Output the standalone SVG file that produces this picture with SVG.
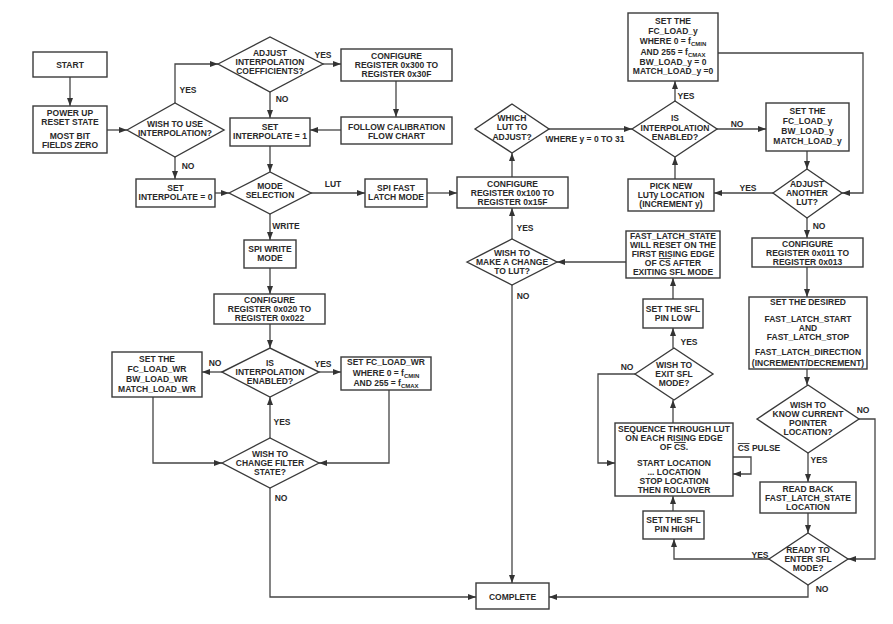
<svg xmlns="http://www.w3.org/2000/svg" width="893" height="624" viewBox="0 0 893 624">
<style>
.n rect,.n polygon{fill:#fff;stroke:#3a3a3a;stroke-width:1.4}
text{font-family:"Liberation Sans",Arial,sans-serif;font-weight:bold;font-size:8.5px;fill:#2a2a2a;text-anchor:middle}
.c path{fill:none;stroke:#444;stroke-width:1.3}
.l text{font-size:8.5px}
.sub{font-size:6px}
.ov{text-decoration:overline}
</style>
<defs>
<marker id="a" viewBox="0 0 8 6" refX="8" refY="3" markerWidth="8" markerHeight="6" markerUnits="userSpaceOnUse" orient="auto">
<path d="M0,0 L8,3 L0,6 z" fill="#333"/>
</marker>
</defs>
<rect width="893" height="624" fill="#fff"/>

<g class="c">
<path d="M70,77 V106" marker-end="url(#a)"/>
<path d="M107,130 H127" marker-end="url(#a)"/>
<path d="M175,103 V64 H218" marker-end="url(#a)"/>
<path d="M175,157 V179" marker-end="url(#a)"/>
<path d="M215,193 H229" marker-end="url(#a)"/>
<path d="M323,64 H341" marker-end="url(#a)"/>
<path d="M396,81 V117" marker-end="url(#a)"/>
<path d="M341,130 H310" marker-end="url(#a)"/>
<path d="M270,92 V118" marker-end="url(#a)"/>
<path d="M270,146 V172" marker-end="url(#a)"/>
<path d="M311,193 H365" marker-end="url(#a)"/>
<path d="M427,193 H457" marker-end="url(#a)"/>
<path d="M270,214 V240" marker-end="url(#a)"/>
<path d="M270,268 V294" marker-end="url(#a)"/>
<path d="M270,324 V348" marker-end="url(#a)"/>
<path d="M222,372 H202" marker-end="url(#a)"/>
<path d="M319,372 H341" marker-end="url(#a)"/>
<path d="M153,397 V463 H222" marker-end="url(#a)"/>
<path d="M389,390 V463 H319" marker-end="url(#a)"/>
<path d="M270,438 V397" marker-end="url(#a)"/>
<path d="M270,488 V597 H476" marker-end="url(#a)"/>
<path d="M512,177 V153" marker-end="url(#a)"/>
<path d="M549,129 H632" marker-end="url(#a)"/>
<path d="M675,101 V81" marker-end="url(#a)"/>
<path d="M717,129 H766" marker-end="url(#a)"/>
<path d="M718,53 H863 V193 H842" marker-end="url(#a)"/>
<path d="M807,151 V169" marker-end="url(#a)"/>
<path d="M773,193 H714" marker-end="url(#a)"/>
<path d="M675,179 V157" marker-end="url(#a)"/>
<path d="M807,218 V238" marker-end="url(#a)"/>
<path d="M807,267 V297" marker-end="url(#a)"/>
<path d="M807,369 V385" marker-end="url(#a)"/>
<path d="M808,453 V482" marker-end="url(#a)"/>
<path d="M808,513 V533" marker-end="url(#a)"/>
<path d="M859,419 H875 V559 H848" marker-end="url(#a)"/>
<path d="M769,559 H674 V539" marker-end="url(#a)"/>
<path d="M808,585 V597 H549" marker-end="url(#a)"/>
<path d="M673,511 V496" marker-end="url(#a)"/>
<path d="M673,423 V400" marker-end="url(#a)"/>
<path d="M635,374 H598 V463 H615" marker-end="url(#a)"/>
<path d="M733,457 H751 V474 H733" marker-end="url(#a)"/>
<path d="M673,348 V328" marker-end="url(#a)"/>
<path d="M673,299 V278" marker-end="url(#a)"/>
<path d="M626,262 H557" marker-end="url(#a)"/>
<path d="M512,239 V208" marker-end="url(#a)"/>
<path d="M512,285 V583" marker-end="url(#a)"/>
</g>

<g class="l">
<text x="188" y="93">YES</text>
<text x="188" y="169">NO</text>
<text x="323" y="58">YES</text>
<text x="282" y="102">NO</text>
<text x="333" y="187">LUT</text>
<text x="286" y="229">WRITE</text>
<text x="215" y="366">NO</text>
<text x="323" y="367">YES</text>
<text x="282" y="425">YES</text>
<text x="281" y="501">NO</text>
<text x="585" y="142">WHERE y = 0 TO 31</text>
<text x="686" y="99">YES</text>
<text x="737" y="127">NO</text>
<text x="748" y="191">YES</text>
<text x="819" y="229">NO</text>
<text x="525" y="231">YES</text>
<text x="523" y="299">NO</text>
<text x="689" y="345">YES</text>
<text x="627" y="370">NO</text>
<text x="759" y="451"><tspan class="ov">CS</tspan> PULSE</text>
<text x="863" y="413">NO</text>
<text x="819" y="463">YES</text>
<text x="760" y="558">YES</text>
<text x="822" y="592">NO</text>
</g>

<g id="start" class="n"><rect x="33" y="52" width="74" height="25"/><text x="70" y="68">START</text></g>
<g id="powerup" class="n"><rect x="33" y="106" width="74" height="47"/><text x="70" y="116">POWER UP</text><text x="70" y="125">RESET STATE</text><text x="70" y="139">MOST BIT</text><text x="70" y="148">FIELDS ZERO</text></g>
<g id="wishuse" class="n"><polygon points="127,130 175,103 224,130 175,157"/><text x="175" y="127">WISH TO USE</text><text x="175" y="136">INTERPOLATION?</text></g>
<g id="setint0" class="n"><rect x="136" y="179" width="79" height="28"/><text x="175.5" y="191">SET</text><text x="175.5" y="200">INTERPOLATE = 0</text></g>
<g id="adjust" class="n"><polygon points="218,64 270,37 323,64 270,92"/><text x="270" y="56">ADJUST</text><text x="270" y="65">INTERPOLATION</text><text x="270" y="74">COEFFICIENTS?</text></g>
<g id="cfg300" class="n"><rect x="341" y="49" width="111" height="32"/><text x="396.5" y="59">CONFIGURE</text><text x="396.5" y="68">REGISTER 0x300 TO</text><text x="396.5" y="77">REGISTER 0x30F</text></g>
<g id="follow" class="n"><rect x="341" y="117" width="111" height="27"/><text x="396.5" y="130">FOLLOW CALIBRATION</text><text x="396.5" y="139">FLOW CHART</text></g>
<g id="setint1" class="n"><rect x="230" y="118" width="80" height="28"/><text x="270" y="130">SET</text><text x="270" y="139">INTERPOLATE = 1</text></g>
<g id="mode" class="n"><polygon points="229,193 270,172 311,193 270,214"/><text x="270" y="189">MODE</text><text x="270" y="198">SELECTION</text></g>
<g id="spifast" class="n"><rect x="365" y="179" width="62" height="28"/><text x="396" y="191">SPI FAST</text><text x="396" y="200">LATCH MODE</text></g>
<g id="spiwrite" class="n"><rect x="244" y="240" width="52" height="28"/><text x="270" y="252">SPI WRITE</text><text x="270" y="261">MODE</text></g>
<g id="cfg020" class="n"><rect x="214" y="294" width="111" height="30"/><text x="269.5" y="303">CONFIGURE</text><text x="269.5" y="312">REGISTER 0x020 TO</text><text x="269.5" y="321">REGISTER 0x022</text></g>
<g id="isinterp1" class="n"><polygon points="222,372 270,348 319,372 270,397"/><text x="270" y="366">IS</text><text x="270" y="375">INTERPOLATION</text><text x="270" y="384">ENABLED?</text></g>
<g id="setwr" class="n"><rect x="112" y="352" width="90" height="45"/><text x="157" y="362">SET THE</text><text x="157" y="372">FC_LOAD_WR</text><text x="157" y="382">BW_LOAD_WR</text><text x="157" y="392">MATCH_LOAD_WR</text></g>
<g id="setfcwr" class="n"><rect x="341" y="357" width="90" height="33"/><text x="386" y="365">SET FC_LOAD_WR</text><text x="386" y="376">WHERE 0 = f<tspan class="sub" dy="2">CMIN</tspan></text><text x="386" y="386">AND 255 = f<tspan class="sub" dy="2">CMAX</tspan></text></g>
<g id="wishchange" class="n"><polygon points="222,463 270,438 319,463 270,488"/><text x="270" y="457">WISH TO</text><text x="270" y="466">CHANGE FILTER</text><text x="270" y="475">STATE?</text></g>
<g id="complete" class="n"><rect x="476" y="583" width="73" height="26"/><text x="512.5" y="600">COMPLETE</text></g>
<g id="cfg100" class="n"><rect x="457" y="177" width="111" height="31"/><text x="512.5" y="186.5">CONFIGURE</text><text x="512.5" y="195.5">REGISTER 0x100 TO</text><text x="512.5" y="204.5">REGISTER 0x15F</text></g>
<g id="which" class="n"><polygon points="475,129 512,104 549,129 512,153"/><text x="512" y="121">WHICH</text><text x="512" y="130">LUT TO</text><text x="512" y="140">ADJUST?</text></g>
<g id="isinterp2" class="n"><polygon points="632,129 675,101 717,129 675,157"/><text x="675" y="121">IS</text><text x="675" y="131">INTERPOLATION</text><text x="675" y="140">ENABLED?</text></g>
<g id="setfcy" class="n"><rect x="628" y="13" width="90" height="68"/><text x="673" y="24">SET THE</text><text x="673" y="34">FC_LOAD_y</text><text x="673" y="44">WHERE 0 = f<tspan class="sub" dy="2">CMIN</tspan></text><text x="673" y="55">AND 255 = f<tspan class="sub" dy="2">CMAX</tspan></text><text x="673" y="65">BW_LOAD_y = 0</text><text x="673" y="74">MATCH_LOAD_y =0</text></g>
<g id="setfcyall" class="n"><rect x="766" y="103" width="83" height="48"/><text x="807.5" y="114">SET THE</text><text x="807.5" y="124">FC_LOAD_y</text><text x="807.5" y="134">BW_LOAD_y</text><text x="807.5" y="144">MATCH_LOAD_y</text></g>
<g id="another" class="n"><polygon points="773,193 807,169 842,193 807,218"/><text x="807" y="187">ADJUST</text><text x="807" y="196">ANOTHER</text><text x="807" y="205">LUT?</text></g>
<g id="picknew" class="n"><rect x="628" y="179" width="86" height="32"/><text x="671" y="189">PICK NEW</text><text x="671" y="198">LUTy LOCATION</text><text x="671" y="207">(INCREMENT y)</text></g>
<g id="cfg011" class="n"><rect x="752" y="238" width="111" height="29"/><text x="807.5" y="246.5">CONFIGURE</text><text x="807.5" y="255.5">REGISTER 0x011 TO</text><text x="807.5" y="264.5">REGISTER 0x013</text></g>
<g id="desired" class="n"><rect x="749" y="297" width="118" height="72"/><text x="808" y="305">SET THE DESIRED</text><text x="808" y="322">FAST_LATCH_START</text><text x="808" y="331">AND</text><text x="808" y="340">FAST_LATCH_STOP</text><text x="808" y="355">FAST_LATCH_DIRECTION</text><text x="808" y="366">(INCREMENT/DECREMENT)</text></g>
<g id="wishknow" class="n"><polygon points="757,419 808,385 859,419 808,453"/><text x="808" y="408">WISH TO</text><text x="808" y="417">KNOW CURRENT</text><text x="808" y="426">POINTER</text><text x="808" y="435">LOCATION?</text></g>
<g id="readback" class="n"><rect x="760" y="482" width="96" height="31"/><text x="808" y="491.5">READ BACK</text><text x="808" y="500.5">FAST_LATCH_STATE</text><text x="808" y="509.5">LOCATION</text></g>
<g id="ready" class="n"><polygon points="769,559 808,533 848,559 808,585"/><text x="808" y="553">READY TO</text><text x="808" y="562">ENTER SFL</text><text x="808" y="571">MODE?</text></g>
<g id="wishmake" class="n"><polygon points="467,262 512,239 557,262 512,285"/><text x="512" y="256">WISH TO</text><text x="512" y="265">MAKE A CHANGE</text><text x="512" y="274">TO LUT?</text></g>
<g id="fastlatch" class="n"><rect x="626" y="231" width="94" height="47"/><text x="673" y="239">FAST_LATCH_STATE</text><text x="673" y="248">WILL RESET ON THE</text><text x="673" y="257">FIRST RISING EDGE</text><text x="673" y="266">OF <tspan class="ov">CS</tspan> AFTER</text><text x="673" y="275">EXITING SFL MODE</text></g>
<g id="sfllow" class="n"><rect x="643" y="299" width="60" height="29"/><text x="673" y="312">SET THE SFL</text><text x="673" y="321">PIN LOW</text></g>
<g id="wishexit" class="n"><polygon points="635,374 674,348 713,374 674,400"/><text x="674" y="368">WISH TO</text><text x="674" y="377">EXIT SFL</text><text x="674" y="386">MODE?</text></g>
<g id="sequence" class="n"><rect x="615" y="423" width="118" height="73"/><text x="674" y="432">SEQUENCE THROUGH LUT</text><text x="674" y="441">ON EACH RISING EDGE</text><text x="674" y="450">OF <tspan class="ov">CS</tspan>.</text><text x="674" y="466">START LOCATION</text><text x="674" y="475">... LOCATION</text><text x="674" y="484">STOP LOCATION</text><text x="674" y="493">THEN ROLLOVER</text></g>
<g id="sflhigh" class="n"><rect x="643" y="511" width="61" height="28"/><text x="673.5" y="523">SET THE SFL</text><text x="673.5" y="532">PIN HIGH</text></g>
</svg>
